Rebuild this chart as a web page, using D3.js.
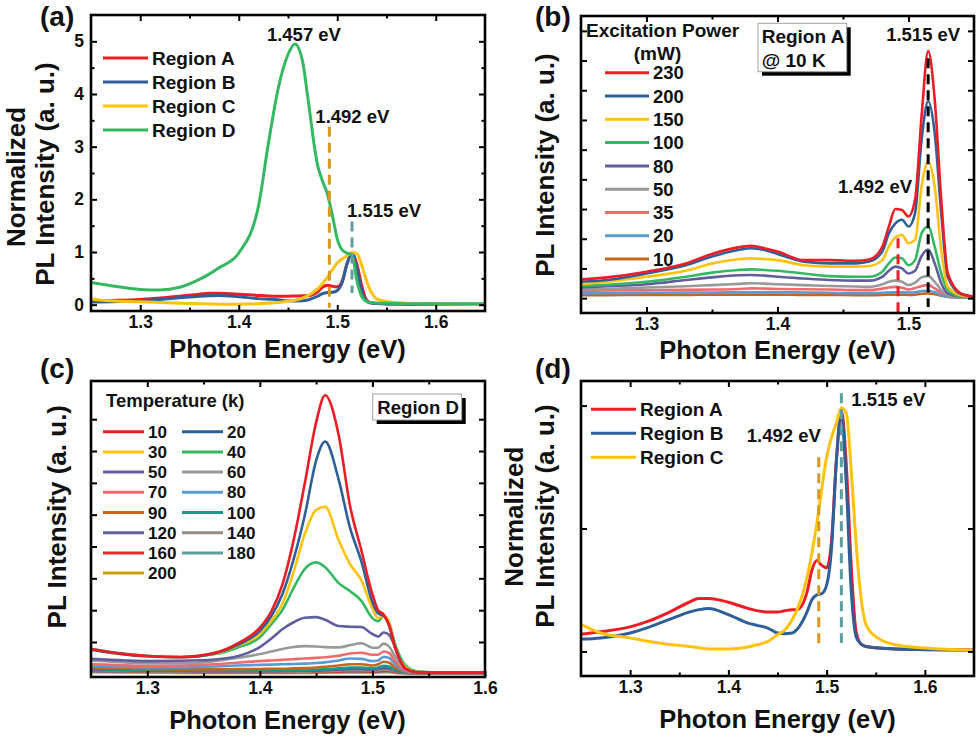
<!DOCTYPE html>
<html>
<head>
<meta charset="utf-8">
<script src="https://cdn.jsdelivr.net/npm/d3@7"></script>
<style>
  body { margin: 0; background: #fff; }
  text { font-family: "Liberation Sans", Arial, sans-serif; font-weight: bold; fill: #111; }
</style>
</head>
<body>
<svg id="fig" width="980" height="740"></svg>
<script>
// ---------- data ----------
// panels (a) and (d): normalized spectra, shared energy grid
let energyAD = [1.25, 1.27, 1.30, 1.32, 1.34, 1.36, 1.37, 1.38, 1.40, 1.42, 1.43, 1.44, 1.45, 1.457, 1.465, 1.47, 1.48, 1.485, 1.49, 1.495, 1.50, 1.505, 1.51, 1.515, 1.52, 1.525, 1.53, 1.535, 1.54, 1.55, 1.57, 1.60, 1.65];
let regionA = [0.07, 0.08, 0.10, 0.125, 0.16, 0.20, 0.215, 0.215, 0.20, 0.175, 0.165, 0.16, 0.16, 0.165, 0.17, 0.17, 0.24, 0.33, 0.37, 0.35, 0.34, 0.45, 0.78, 0.98, 0.76, 0.35, 0.08, 0.03, 0.02, 0.015, 0.01, 0.008, 0.006];
let regionB = [0.05, 0.055, 0.075, 0.10, 0.13, 0.16, 0.17, 0.175, 0.15, 0.115, 0.105, 0.095, 0.075, 0.072, 0.075, 0.09, 0.16, 0.21, 0.23, 0.235, 0.27, 0.42, 0.78, 0.97, 0.68, 0.25, 0.06, 0.03, 0.02, 0.015, 0.01, 0.007, 0.005];
let regionC = [0.11, 0.075, 0.055, 0.04, 0.028, 0.02, 0.015, 0.01, 0.01, 0.018, 0.028, 0.04, 0.068, 0.085, 0.13, 0.17, 0.30, 0.40, 0.52, 0.66, 0.79, 0.87, 0.93, 0.99, 0.97, 0.74, 0.44, 0.22, 0.11, 0.06, 0.027, 0.014, 0.005];
let regionD = [0.42, 0.36, 0.29, 0.28, 0.33, 0.48, 0.58, 0.70, 0.98, 1.87, 3.05, 4.10, 4.75, 4.95, 4.60, 3.95, 2.65, 2.35, 2.10, 1.70, 1.25, 1.04, 0.98, 0.95, 0.45, 0.15, 0.06, 0.04, 0.03, 0.025, 0.02, 0.02, 0.02];
let regionNames = ["Region A", "Region B", "Region C", "Region D"];

// panel (b): excitation power series, region A @ 10 K
let energyB = [1.25, 1.27, 1.30, 1.33, 1.35, 1.37, 1.38, 1.39, 1.40, 1.42, 1.44, 1.46, 1.47, 1.48, 1.485, 1.49, 1.495, 1.50, 1.505, 1.51, 1.515, 1.52, 1.525, 1.53, 1.54, 1.55];
let powerLabels = ["230", "200", "150", "100", "80", "50", "35", "20", "10"];
let p230 = [0.63, 0.70, 0.89, 1.17, 1.49, 1.71, 1.76, 1.68, 1.57, 1.28, 1.28, 1.26, 1.30, 1.73, 2.41, 3.00, 2.97, 2.75, 3.31, 6.13, 8.32, 6.69, 3.31, 0.83, 0.16, 0.05];
let p200 = [0.55, 0.61, 0.83, 1.11, 1.40, 1.62, 1.68, 1.62, 1.49, 1.23, 1.17, 1.17, 1.23, 1.57, 2.18, 2.52, 2.64, 2.41, 2.86, 5.34, 6.63, 5.56, 2.86, 0.72, 0.14, 0.05];
let p150 = [0.47, 0.55, 0.72, 0.92, 1.17, 1.31, 1.34, 1.32, 1.28, 1.11, 1.06, 1.06, 1.08, 1.28, 1.73, 2.05, 2.13, 1.85, 1.96, 3.76, 4.60, 3.76, 1.62, 0.38, 0.10, 0.05];
let p100 = [0.41, 0.45, 0.55, 0.72, 0.86, 0.95, 0.97, 0.95, 0.92, 0.83, 0.74, 0.72, 0.72, 0.89, 1.17, 1.37, 1.34, 1.11, 1.28, 2.18, 2.41, 1.73, 0.83, 0.27, 0.06, 0.04];
let p80 = [0.36, 0.40, 0.47, 0.61, 0.70, 0.77, 0.78, 0.76, 0.72, 0.66, 0.61, 0.59, 0.59, 0.72, 0.92, 1.06, 1.00, 0.83, 0.92, 1.42, 1.64, 1.17, 0.50, 0.16, 0.05, 0.04];
let p50 = [0.29, 0.31, 0.36, 0.40, 0.44, 0.48, 0.50, 0.49, 0.47, 0.44, 0.41, 0.39, 0.38, 0.47, 0.55, 0.59, 0.55, 0.44, 0.52, 0.70, 0.74, 0.55, 0.27, 0.10, 0.04, 0.03];
let p35 = [0.25, 0.26, 0.27, 0.28, 0.29, 0.31, 0.33, 0.32, 0.31, 0.30, 0.29, 0.27, 0.27, 0.32, 0.36, 0.38, 0.35, 0.29, 0.34, 0.41, 0.44, 0.33, 0.18, 0.10, 0.04, 0.03];
let p20 = [0.16, 0.17, 0.18, 0.19, 0.19, 0.20, 0.20, 0.20, 0.20, 0.19, 0.18, 0.17, 0.17, 0.18, 0.19, 0.20, 0.20, 0.19, 0.20, 0.24, 0.25, 0.20, 0.10, 0.05, 0.03, 0.02];
let p10 = [0.10, 0.10, 0.11, 0.11, 0.12, 0.12, 0.12, 0.12, 0.12, 0.11, 0.11, 0.10, 0.10, 0.11, 0.12, 0.12, 0.12, 0.11, 0.12, 0.15, 0.16, 0.13, 0.08, 0.04, 0.02, 0.02];

// panel (c): temperature series, region D
let energyC = [1.25, 1.28, 1.30, 1.33, 1.36, 1.38, 1.40, 1.41, 1.42, 1.43, 1.44, 1.45, 1.458, 1.47, 1.48, 1.49, 1.50, 1.505, 1.51, 1.515, 1.52, 1.53, 1.54, 1.56, 1.60];
let tempLabels = ["10", "20", "30", "40", "50", "60", "70", "80", "90", "100", "120", "140", "160", "180", "200"];
let t10 = [0.78, 0.62, 0.56, 0.53, 0.66, 0.95, 1.45, 1.95, 2.80, 4.20, 6.00, 7.90, 8.75, 7.50, 5.30, 3.90, 2.50, 2.00, 1.86, 1.50, 0.85, 0.15, 0.05, 0.04, 0.04];
let t20 = [0.76, 0.61, 0.55, 0.52, 0.64, 0.90, 1.35, 1.80, 2.50, 3.60, 5.00, 6.70, 7.30, 6.10, 4.60, 3.55, 2.25, 1.90, 1.82, 1.50, 0.85, 0.15, 0.05, 0.04, 0.04];
let t30 = [0.77, 0.61, 0.55, 0.52, 0.63, 0.88, 1.25, 1.65, 2.20, 3.20, 4.40, 5.15, 5.25, 4.20, 3.45, 2.95, 2.05, 1.75, 1.82, 1.60, 0.85, 0.20, 0.06, 0.04, 0.04];
let t40 = [0.79, 0.63, 0.57, 0.53, 0.62, 0.82, 1.15, 1.55, 2.00, 2.70, 3.30, 3.50, 3.35, 2.85, 2.60, 2.30, 1.75, 1.65, 1.82, 1.60, 0.95, 0.25, 0.08, 0.04, 0.04];
let t50 = [0.47, 0.42, 0.40, 0.41, 0.45, 0.55, 0.84, 1.10, 1.40, 1.62, 1.76, 1.78, 1.70, 1.50, 1.48, 1.47, 1.25, 1.17, 1.30, 1.22, 0.85, 0.15, 0.06, 0.04, 0.03];
let t60 = [0.42, 0.36, 0.33, 0.33, 0.40, 0.50, 0.62, 0.70, 0.78, 0.84, 0.87, 0.86, 0.84, 0.83, 0.90, 0.96, 0.82, 0.82, 0.95, 0.85, 0.55, 0.15, 0.06, 0.04, 0.03];
let t70 = [0.30, 0.27, 0.25, 0.26, 0.30, 0.35, 0.40, 0.42, 0.44, 0.46, 0.48, 0.50, 0.52, 0.57, 0.64, 0.66, 0.60, 0.60, 0.70, 0.65, 0.40, 0.10, 0.05, 0.03, 0.03];
let t80 = [0.25, 0.22, 0.20, 0.20, 0.23, 0.26, 0.28, 0.29, 0.30, 0.31, 0.32, 0.34, 0.36, 0.42, 0.48, 0.47, 0.40, 0.42, 0.53, 0.50, 0.30, 0.08, 0.04, 0.03, 0.03];
let t90 = [0.20, 0.17, 0.15, 0.14, 0.14, 0.15, 0.15, 0.16, 0.16, 0.17, 0.18, 0.20, 0.22, 0.26, 0.30, 0.30, 0.26, 0.30, 0.38, 0.35, 0.20, 0.06, 0.03, 0.02, 0.02];
let t100 = [0.16, 0.13, 0.12, 0.11, 0.10, 0.10, 0.10, 0.10, 0.11, 0.11, 0.12, 0.13, 0.14, 0.17, 0.20, 0.20, 0.17, 0.20, 0.25, 0.23, 0.13, 0.05, 0.03, 0.02, 0.02];
let t120 = [0.13, 0.11, 0.10, 0.09, 0.08, 0.08, 0.08, 0.08, 0.09, 0.09, 0.10, 0.10, 0.11, 0.13, 0.15, 0.15, 0.13, 0.15, 0.18, 0.17, 0.10, 0.04, 0.02, 0.02, 0.02];
let t140 = [0.11, 0.09, 0.08, 0.07, 0.07, 0.06, 0.06, 0.06, 0.07, 0.07, 0.07, 0.08, 0.08, 0.10, 0.11, 0.11, 0.10, 0.11, 0.13, 0.12, 0.08, 0.03, 0.02, 0.02, 0.02];
let t160 = [0.09, 0.08, 0.07, 0.06, 0.05, 0.05, 0.05, 0.05, 0.05, 0.05, 0.06, 0.06, 0.06, 0.07, 0.08, 0.08, 0.07, 0.08, 0.09, 0.09, 0.06, 0.03, 0.02, 0.02, 0.02];
let t180 = [0.07, 0.06, 0.05, 0.05, 0.04, 0.04, 0.04, 0.04, 0.04, 0.04, 0.04, 0.05, 0.05, 0.05, 0.06, 0.06, 0.05, 0.06, 0.07, 0.06, 0.04, 0.02, 0.02, 0.01, 0.01];
let t200 = [0.05, 0.04, 0.04, 0.03, 0.03, 0.03, 0.03, 0.03, 0.03, 0.03, 0.03, 0.03, 0.04, 0.04, 0.04, 0.04, 0.04, 0.04, 0.05, 0.05, 0.03, 0.02, 0.01, 0.01, 0.01];

let xTicks = [1.3, 1.4, 1.5, 1.6];
let xMinorTicks = [1.35, 1.45, 1.55];

// ---------- styles ----------
let regionColors = ["#ee1c25", "#2f5f98", "#ffc20e", "#35b862"];
let powerColors = ["#ee1c25", "#2f5f98", "#ffc20e", "#35b862", "#605e9d", "#999999", "#f26b6b", "#5b9bd5", "#c8651b"];
let tempColors = ["#ee1c25", "#2f5f98", "#ffc20e", "#35b862", "#605e9d", "#999999", "#f26b6b", "#5b9bd5", "#c8651b", "#129b8f", "#605e9d", "#9a8a86", "#d9302f", "#5f9ea0", "#c9a00c"];
let dashGold = "#d69a20", dashTeal = "#5f9ea0";

const svg = d3.select("#fig");

function makePanel(id, box, xDomain, yDomain) {
	let x = d3.scaleLinear().domain(xDomain).range([box.left, box.right]);
	let y = d3.scaleLinear().domain(yDomain).range([box.bottom, box.top]);
	svg.append("clipPath").attr("id", "clip-" + id)
		.append("rect")
		.attr("x", box.left).attr("y", box.top)
		.attr("width", box.right - box.left).attr("height", box.bottom - box.top);
	let g = svg.append("g").attr("class", "panel-" + id);
	let plot = g.append("g").attr("clip-path", "url(#clip-" + id + ")");
	return { g: g, plot: plot, x: x, y: y, box: box };
}

function styleAxis(sel) {
	sel.select(".domain").remove();
	sel.selectAll(".tick line").attr("stroke", "#000").attr("stroke-width", 2);
	sel.selectAll("text").attr("font-size", null).attr("font-family", null)
		.style("font-size", "17.5px").attr("fill", "#111");
}

function drawAxes(P, yTicks, yMinor, yFormat) {
	let b = P.box;
	let fmt = d3.format(".1f");
	P.g.append("g").attr("transform", "translate(0," + b.bottom + ")")
		.call(d3.axisBottom(P.x).tickValues(xTicks.filter(t => t <= P.x.domain()[1] + 1e-9)).tickSize(-6).tickPadding(5).tickFormat(fmt))
		.call(styleAxis);
	P.g.append("g").attr("transform", "translate(0," + b.bottom + ")")
		.call(d3.axisBottom(P.x).tickValues(xMinorTicks.filter(t => t < P.x.domain()[1])).tickSize(-3.5).tickFormat(""))
		.call(styleAxis);
	P.g.append("g").attr("transform", "translate(0," + b.top + ")")
		.call(d3.axisTop(P.x).tickValues(xTicks.filter(t => t < P.x.domain()[1])).tickSize(-6).tickFormat(""))
		.call(styleAxis);
	P.g.append("g").attr("transform", "translate(0," + b.top + ")")
		.call(d3.axisTop(P.x).tickValues(xMinorTicks.filter(t => t < P.x.domain()[1])).tickSize(-3.5).tickFormat(""))
		.call(styleAxis);
	P.g.append("g").attr("transform", "translate(" + b.left + ",0)")
		.call(d3.axisLeft(P.y).tickValues(yTicks).tickSize(-6).tickPadding(7).tickFormat(yFormat || ""))
		.call(styleAxis);
	P.g.append("g").attr("transform", "translate(" + b.right + ",0)")
		.call(d3.axisRight(P.y).tickValues(yTicks).tickSize(-6).tickFormat(""))
		.call(styleAxis);
	if (yMinor) {
		P.g.append("g").attr("transform", "translate(" + b.left + ",0)")
			.call(d3.axisLeft(P.y).tickValues(yMinor).tickSize(-3.5).tickFormat(""))
			.call(styleAxis);
		P.g.append("g").attr("transform", "translate(" + b.right + ",0)")
			.call(d3.axisRight(P.y).tickValues(yMinor).tickSize(-3.5).tickFormat(""))
			.call(styleAxis);
	}
	P.g.append("rect")
		.attr("x", b.left).attr("y", b.top)
		.attr("width", b.right - b.left).attr("height", b.bottom - b.top)
		.attr("fill", "none").attr("stroke", "#000").attr("stroke-width", 2.6);
}

function drawLines(P, energy, series, colors, width) {
	let line = d3.line()
		.x((d, i) => P.x(energy[i]))
		.y(d => P.y(d))
		.curve(d3.curveMonotoneX);
	P.plot.selectAll(null)
		.data(series)
		.enter().append("path")
		.attr("d", d => line(d.values))
		.attr("fill", "none")
		.attr("stroke", d => colors[d.k])
		.attr("stroke-width", width || 2.6)
		.attr("stroke-linejoin", "round");
}

function dashed(P, e, y0, y1, color) {
	P.plot.append("line")
		.attr("x1", P.x(e)).attr("x2", P.x(e))
		.attr("y1", P.y(y0)).attr("y2", P.y(y1))
		.attr("stroke", color).attr("stroke-width", 3)
		.attr("stroke-dasharray", "10,6");
}

function label(x, y, txt, size, anchor) {
	svg.append("text").attr("x", x).attr("y", y)
		.attr("text-anchor", anchor || "start")
		.style("font-size", size + "px")
		.text(txt);
}

function yTitle(bx, cy, txt) {
	svg.append("text")
		.attr("transform", "translate(" + bx + "," + cy + ") rotate(-90)")
		.attr("text-anchor", "middle")
		.style("font-size", "26px")
		.text(txt);
}

function legendItem(x0, x1, yy, color, txt, size) {
	svg.append("line").attr("x1", x0).attr("x2", x1).attr("y1", yy).attr("y2", yy)
		.attr("stroke", color).attr("stroke-width", 3);
	svg.append("text").attr("x", x1 + 4).attr("y", yy).attr("dy", "0.36em")
		.style("font-size", size + "px").text(txt);
}

function shadowBox(x, y, w, h) {
	svg.append("rect").attr("x", x + 4).attr("y", y + 4).attr("width", w).attr("height", h).attr("fill", "#000");
	svg.append("rect").attr("x", x).attr("y", y).attr("width", w).attr("height", h)
		.attr("fill", "#fff").attr("stroke", "#a0a0a0").attr("stroke-width", 1);
}

// ---------- panel (a) ----------
let A = makePanel("a", { left: 91, right: 485, top: 15, bottom: 311 }, [1.25, 1.65], [-0.12, 5.5]);
drawLines(A, energyAD, [regionA, regionB, regionC, regionD].map((v, k) => ({ values: v, k: k })), regionColors, 3);
dashed(A, 1.492, 3.38, -0.06, dashGold);
dashed(A, 1.515, 1.58, 0.22, dashTeal);
drawAxes(A, [0, 1, 2, 3, 4, 5], [0.5, 1.5, 2.5, 3.5, 4.5], d3.format("d"));
regionNames.forEach((n, k) => legendItem(103, 148, 58 + 24 * k, regionColors[k], n, 19));
label(A.x(1.457) - 28, A.y(5.0), "1.457 eV", 18.5);
label(A.x(1.492) - 14, A.y(3.45), "1.492 eV", 18.5);
label(A.x(1.515) - 5, A.y(1.67), "1.515 eV", 18.5);
label(40, 26, "(a)", 28);
yTitle(25, 177, "Normalized");
yTitle(54, 174, "PL Intensity (a. u.)");
label(287.5, 358, "Photon Energy (eV)", 25.5, "middle");

// ---------- panel (b) ----------
let B = makePanel("b", { left: 581, right: 974, top: 16, bottom: 313 }, [1.25, 1.55], [-0.5, 9.5]);
let powerSeries = [p230, p200, p150, p100, p80, p50, p35, p20, p10].map((v, k) => ({ values: v, k: k })).reverse();
drawLines(B, energyB, powerSeries, powerColors, 2.6);
dashed(B, 1.492, 2.02, -0.5, "#ee1c25");
dashed(B, 1.515, 8.08, -0.3, "#000");
drawAxes(B, d3.range(0, 10), null, "");
label(586, 36.7, "Excitation Power", 19);
label(657.5, 60, "(mW)", 19, "middle");
powerLabels.forEach((n, k) => legendItem(605, 649, 72.7 + 23.3 * k, powerColors[k], n, 18.5));
shadowBox(758, 23.3, 88.7, 48.4);
label(761.7, 43.3, "Region A", 19);
label(761.7, 66.7, "@ 10 K", 19);
label(B.x(1.515) - 42, B.y(8.67), "1.515 eV", 18.5);
label(B.x(1.492) - 60, B.y(3.55), "1.492 eV", 18.5);
label(535, 26, "(b)", 28);
yTitle(554, 165, "PL Intensity (a. u.)");
label(777.5, 359, "Photon Energy (eV)", 25.5, "middle");

// ---------- panel (c) ----------
let C = makePanel("c", { left: 91, right: 485, top: 381, bottom: 677 }, [1.25, 1.6], [-0.1, 9.2]);
let tempSeries = [t10, t20, t30, t40, t50, t60, t70, t80, t90, t100, t120, t140, t160, t180, t200].map((v, k) => ({ values: v, k: k })).reverse();
drawLines(C, energyC, tempSeries, tempColors, 2.6);
drawAxes(C, d3.range(1, 9), null, "");
label(106, 407, "Temperature (k)", 18.5);
tempLabels.forEach((n, k) => {
	let col = k % 2, row = Math.floor(k / 2);
	let x0 = col === 0 ? 103 : 182;
	legendItem(x0, x0 + 41, 431.7 + 20.2 * row, tempColors[k], n, 17);
});
shadowBox(372.7, 394, 89, 26);
label(377.3, 414.3, "Region D", 18.6);
label(40, 378, "(c)", 28);
yTitle(65.5, 516.7, "PL Intensity (a. u.)");
label(287.5, 729, "Photon Energy (eV)", 25.5, "middle");

// ---------- panel (d) ----------
let D = makePanel("d", { left: 581, right: 974, top: 381, bottom: 676 }, [1.25, 1.65], [-0.1, 1.1]);
drawLines(D, energyAD, [regionA, regionB, regionC].map((v, k) => ({ values: v, k: k })), regionColors, 3);
dashed(D, 1.492, 0.79, 0.02, dashGold);
dashed(D, 1.515, 1.05, 0.034, dashTeal);
drawAxes(D, [0, 0.5, 1], null, "");
regionNames.slice(0, 3).forEach((n, k) => legendItem(591, 636, 409.3 + 24 * k, regionColors[k], n, 19));
label(D.x(1.515) + 10, D.y(0.998), "1.515 eV", 18.5);
label(D.x(1.492) - 72, D.y(0.853), "1.492 eV", 18.5);
label(535, 378, "(d)", 28);
yTitle(523, 516.7, "Normalized");
yTitle(554, 516, "PL Intensity (a. u.)");
label(777.5, 728, "Photon Energy (eV)", 25.5, "middle");
</script>
</body>
</html>
